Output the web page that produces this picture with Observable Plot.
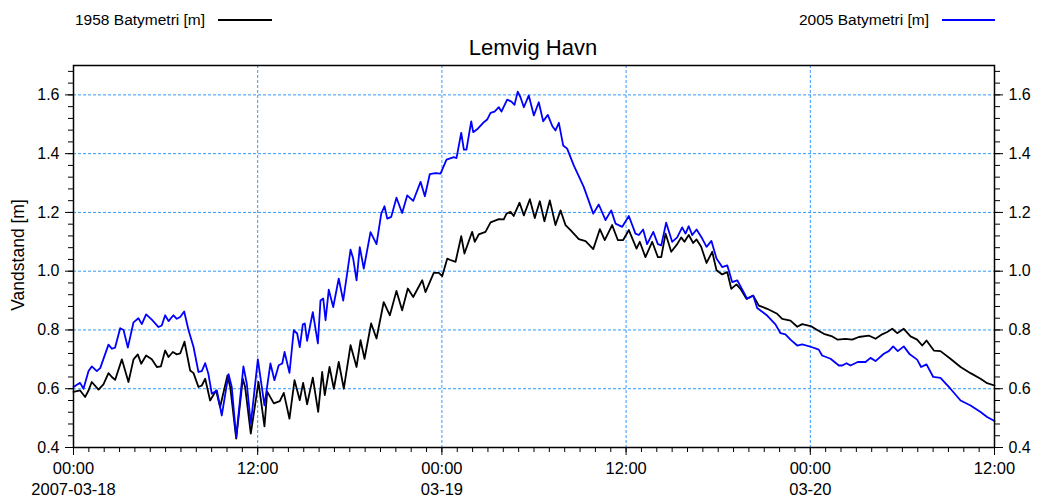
<!DOCTYPE html>
<html><head><meta charset="utf-8">
<script src="https://cdn.jsdelivr.net/npm/d3@7"></script>
<script src="https://cdn.jsdelivr.net/npm/@observablehq/plot@0.6"></script>
<style>
body{margin:0;background:#fff;font-family:"Liberation Sans",Arial,sans-serif;color:#000;}
#wrap{position:relative;width:1041px;height:500px;overflow:hidden;}
#wrap svg{position:absolute;left:0;top:0;}
.abs{position:absolute;white-space:nowrap;}
.leg{font-size:15.5px;line-height:18px;}
.sw{position:absolute;height:2px;}
#title{font-size:22px;}
#ylab{font-size:17.5px;transform:translate(-50%,-50%) rotate(-90deg);}
</style></head>
<body><div id="wrap"></div>
<script>
const title = "Lemvig Havn";
const yLabel = "Vandstand [m]";
const seriesNames = ["1958 Batymetri [m]", "2005 Batymetri [m]"];
const seriesColors = ["#000000", "#0000ff"];
// hours since 2007-03-18 00:00
const hours1958 = [0,0.43,0.76,0.98,1.19,1.63,1.95,2.28,2.5,2.71,3.15,3.58,3.91,4.19,4.41,4.73,5.1,5.43,5.69,5.97,6.19,6.47,6.73,6.95,7.23,7.6,7.82,8.14,8.36,8.58,8.9,9.29,9.55,10.03,10.21,10.6,11.03,11.18,11.55,12.05,12.44,12.62,13.05,13.44,13.7,14.07,14.4,14.74,14.96,15.22,15.59,15.94,16.2,16.37,16.68,16.96,17.28,17.61,18.05,18.44,18.7,18.96,19.39,19.74,20.21,20.61,21.04,21.41,21.78,22.13,22.72,22.93,23.47,23.8,24.02,24.35,24.51,24.89,25.26,25.47,25.97,26.14,26.4,26.84,27.17,27.71,28.03,28.21,28.47,28.68,29.06,29.34,29.73,30.05,30.38,30.68,31.03,31.4,31.73,32.05,32.38,32.92,33.36,33.86,34.29,34.61,35.09,35.46,35.81,36.18,36.68,36.89,37.26,37.7,38.07,38.29,38.57,38.94,39.33,39.59,39.8,40.08,40.37,40.59,40.89,41.24,41.61,41.89,42.26,42.59,42.85,43.19,43.45,43.84,44.28,44.65,45.19,45.84,46.17,46.71,47.15,47.47,48.08,48.45,48.88,49.43,49.79,50.29,50.73,51.16,51.81,52.25,52.68,53.01,53.34,53.66,54.09,54.53,54.96,55.29,55.57,56.05,56.48,57.13,57.79,58.44,59.09,59.52,60];
const level1958 = [0.589,0.594,0.572,0.594,0.623,0.597,0.615,0.653,0.64,0.63,0.7,0.623,0.7,0.717,0.685,0.713,0.7,0.674,0.676,0.73,0.708,0.725,0.717,0.72,0.76,0.662,0.653,0.606,0.611,0.634,0.56,0.594,0.538,0.645,0.606,0.43,0.634,0.606,0.447,0.623,0.472,0.59,0.55,0.558,0.586,0.498,0.629,0.561,0.62,0.547,0.638,0.521,0.657,0.578,0.674,0.6,0.691,0.6,0.748,0.674,0.765,0.702,0.822,0.771,0.895,0.85,0.933,0.867,0.941,0.912,0.969,0.929,0.994,0.994,0.983,1.043,1.039,1.032,1.119,1.06,1.134,1.1,1.125,1.134,1.166,1.177,1.176,1.196,1.202,1.188,1.233,1.19,1.245,1.181,1.238,1.17,1.241,1.157,1.207,1.157,1.14,1.109,1.102,1.075,1.143,1.106,1.157,1.106,1.106,1.14,1.077,1.1,1.048,1.1,1.048,1.048,1.128,1.066,1.092,1.115,1.1,1.123,1.096,1.108,1.083,1.028,1.066,1.003,0.989,0.997,0.94,0.955,0.94,0.906,0.917,0.883,0.872,0.855,0.838,0.832,0.811,0.82,0.812,0.8,0.787,0.778,0.767,0.77,0.767,0.776,0.781,0.77,0.785,0.793,0.804,0.789,0.804,0.778,0.767,0.747,0.764,0.73,0.728,0.702,0.674,0.653,0.634,0.619,0.611];
const hours2005 = [0,0.43,0.65,0.98,1.19,1.52,1.74,2.28,2.5,2.71,3.04,3.26,3.54,3.91,4.23,4.45,4.73,5.1,5.54,5.75,5.97,6.19,6.51,6.73,6.95,7.21,7.49,7.82,8.14,8.36,8.58,8.79,9.01,9.34,9.66,10.1,10.31,10.6,11.07,11.29,11.55,12.01,12.44,12.83,13.09,13.37,13.6,13.75,14.07,14.35,14.57,14.74,14.94,15.07,15.22,15.59,15.92,16.09,16.27,16.42,16.63,16.92,17.28,17.57,18.05,18.22,18.44,18.65,18.91,19.35,19.74,20.05,20.26,20.44,20.7,21.04,21.41,21.74,22.13,22.61,22.89,23.21,23.58,23.91,24.3,24.78,24.95,25.26,25.43,25.6,25.91,26.04,26.34,26.69,26.95,27.17,27.43,27.71,27.88,28.25,28.53,28.73,28.94,29.12,29.34,29.66,29.99,30.31,30.6,30.9,31.19,31.4,31.62,31.9,32.16,32.59,33.24,33.86,34.22,34.66,35.03,35.31,35.75,36.18,36.61,36.83,37.11,37.37,37.77,38.07,38.29,38.61,39,39.33,39.65,39.87,40.08,40.31,40.59,40.96,41.24,41.56,41.89,42.26,42.59,42.91,43.24,43.5,43.89,44.28,44.54,45.19,45.73,46.06,46.38,46.71,47.15,47.47,48.08,48.55,48.77,49.32,49.86,50.08,50.36,50.62,51.09,51.6,51.92,52.25,52.79,53.11,53.4,53.7,54.09,54.48,54.96,55.22,55.57,56.01,56.48,57.13,57.79,58.44,59.09,59.52,60];
const level2005 = [0.606,0.62,0.6,0.66,0.676,0.66,0.67,0.75,0.736,0.74,0.806,0.8,0.74,0.826,0.84,0.82,0.853,0.835,0.81,0.815,0.85,0.83,0.85,0.838,0.844,0.863,0.8,0.742,0.657,0.66,0.687,0.65,0.583,0.594,0.509,0.65,0.606,0.435,0.676,0.617,0.48,0.7,0.543,0.686,0.629,0.68,0.686,0.725,0.654,0.799,0.788,0.742,0.819,0.822,0.763,0.861,0.754,0.9,0.907,0.833,0.937,0.878,0.975,0.9,1.073,1.043,0.969,1.082,1.009,1.133,1.092,1.196,1.221,1.179,1.185,1.25,1.198,1.258,1.239,1.304,1.255,1.33,1.334,1.332,1.38,1.388,1.385,1.471,1.414,1.414,1.51,1.473,1.485,1.505,1.516,1.539,1.543,1.558,1.543,1.584,1.577,1.566,1.611,1.592,1.558,1.598,1.53,1.575,1.51,1.532,1.494,1.479,1.505,1.428,1.417,1.36,1.287,1.196,1.227,1.174,1.207,1.162,1.151,1.188,1.128,1.123,1.142,1.092,1.134,1.092,1.088,1.165,1.1,1.115,1.149,1.128,1.153,1.123,1.142,1.111,1.083,1.103,1.043,1.014,1.02,0.963,0.969,0.944,0.906,0.917,0.875,0.849,0.819,0.789,0.785,0.767,0.747,0.751,0.742,0.733,0.713,0.702,0.679,0.679,0.687,0.679,0.691,0.691,0.705,0.694,0.719,0.728,0.744,0.728,0.744,0.717,0.699,0.674,0.683,0.64,0.637,0.6,0.56,0.543,0.521,0.504,0.49];
const xTickHours = [0, 12, 24, 36, 48, 60];
const xTickLabels = ["00:00\n2007-03-18", "12:00", "00:00\n03-19", "12:00", "00:00\n03-20", "12:00"];
const yTicks = [0.4, 0.6, 0.8, 1.0, 1.2, 1.4, 1.6];
const yDomain = [0.4, 1.7];

const t0 = Date.UTC(2007, 2, 18, 0, 0);
const toDate = h => new Date(t0 + h * 3600e3);
const d1958 = hours1958.map((h, i) => ({date: toDate(h), value: level1958[i]}));
const d2005 = hours2005.map((h, i) => ({date: toDate(h), value: level2005[i]}));
const xMajor = xTickHours.map(toDate);
const labelMap = new Map(xMajor.map((d, i) => [+d, xTickLabels[i]]));
const xMinor = d3.range(0, 61, 1).map(toDate);
const yMinor = d3.range(0, 33).map(i => +(0.4 + i * 0.04).toFixed(2));
const gridStyle = {stroke: "#3399ff", strokeOpacity: 1, strokeWidth: 1, strokeDasharray: "3,2"};

const chart = Plot.plot({
  width: 1041, height: 500,
  marginLeft: 73, marginRight: 47, marginTop: 65, marginBottom: 53,
  style: {fontFamily: "'Liberation Sans', Arial, sans-serif", fontSize: "16px", color: "#000", background: "transparent", overflow: "visible"},
  x: {type: "utc", domain: [toDate(0), toDate(60)]},
  y: {domain: yDomain},
  marks: [
    Plot.gridX(xMajor.slice(1, -1), gridStyle),
    Plot.gridY(yTicks.slice(1), gridStyle),
    Plot.axisX(xMinor, {anchor: "bottom", tickSize: 5, text: null, label: null, strokeWidth: 1}),
    Plot.axisX(xMajor, {anchor: "bottom", tickSize: 8, tickPadding: 3, label: null, fontSize: 16.5, lineHeight: 1.3, tickFormat: d => labelMap.get(+d), strokeWidth: 1}),
    Plot.axisY(yMinor, {anchor: "left", tickSize: 5, text: null, label: null}),
    Plot.axisY(yMinor, {anchor: "right", tickSize: 5, text: null, label: null}),
    Plot.axisY(yTicks, {anchor: "left", tickSize: 8, tickPadding: 6, label: null, fontSize: 16, tickFormat: d => d.toFixed(1)}),
    Plot.axisY(yTicks, {anchor: "right", tickSize: 8, tickPadding: 6, label: null, fontSize: 16, tickFormat: d => d.toFixed(1)}),
    Plot.lineY(d1958, {x: "date", y: "value", stroke: seriesColors[0], strokeWidth: 1.8, strokeLinejoin: "round"}),
    Plot.lineY(d2005, {x: "date", y: "value", stroke: seriesColors[1], strokeWidth: 1.8, strokeLinejoin: "round"}),
    Plot.frame({stroke: "#000", strokeWidth: 1.5})
  ]
});
const wrap = document.getElementById("wrap");
wrap.appendChild(chart);

function addDiv(cls, text, css) {
  const d = document.createElement("div");
  d.className = "abs " + cls;
  d.textContent = text;
  Object.assign(d.style, css);
  wrap.appendChild(d);
  return d;
}
addDiv("leg", seriesNames[0], {left: "75px", top: "11px"});
addDiv("leg", seriesNames[1], {right: "112px", top: "11px"});
const s1 = document.createElement("div"); s1.className = "sw";
Object.assign(s1.style, {left: "218px", width: "54px", top: "19px", background: seriesColors[0]});
wrap.appendChild(s1);
const s2 = document.createElement("div"); s2.className = "sw";
Object.assign(s2.style, {left: "942px", width: "53px", top: "19px", background: seriesColors[1]});
wrap.appendChild(s2);
const t = addDiv("", title, {left: "533px", top: "35px", transform: "translateX(-50%)"});
t.id = "title";
const yl = addDiv("", yLabel, {left: "18px", top: "255px"});
yl.id = "ylab";
</script>
</body></html>
